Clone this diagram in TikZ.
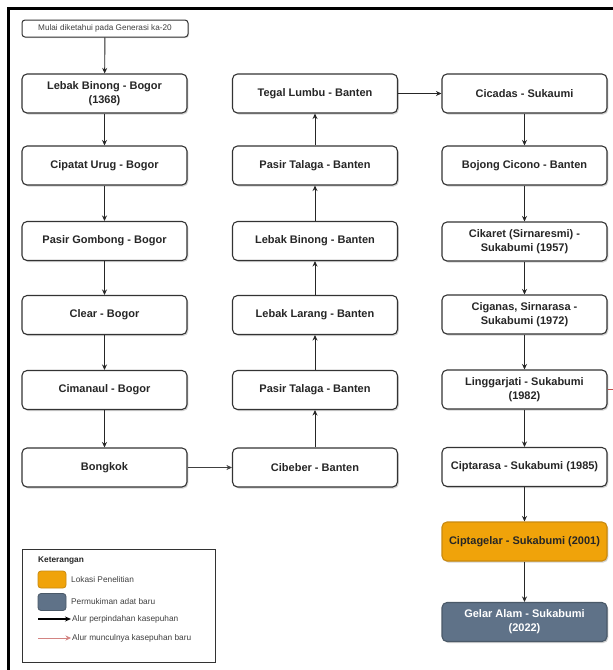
\documentclass[tikz,border=0pt]{standalone}
\usepackage{fontspec}
\setmainfont{Liberation Sans}
\usetikzlibrary{arrows.meta,shadows}
\definecolor{boxline}{HTML}{333333}
\definecolor{orangefill}{HTML}{F0A30A}
\definecolor{orangeline}{HTML}{C98A10}
\definecolor{slatefill}{HTML}{5F7288}
\definecolor{slateline}{HTML}{4A5968}
\definecolor{redline}{HTML}{C0504D}
\begin{document}
\begin{tikzpicture}[x=1pt,y=-1pt,
  box/.style={draw=boxline, line width=1.1pt, rounded corners=5pt, fill=white,
    minimum width=165pt, minimum height=39pt, align=center, inner sep=2pt,
    font=\bfseries\fontsize{11}{14}\selectfont, text=black!85,
    drop shadow={opacity=0.35, shadow xshift=1.3pt, shadow yshift=-1.5pt}},
  startbox/.style={draw=boxline, line width=1pt, rounded corners=3pt, fill=white,
    minimum width=166pt, minimum height=17pt, inner sep=1pt,
    font=\fontsize{8.2}{9}\selectfont, text=black!75,
    drop shadow={opacity=0.3, shadow xshift=1pt, shadow yshift=-1pt}},
  flow/.style={-{Stealth[length=5.5pt,width=5pt]}, line width=0.9pt, draw=black!85},
  thinflow/.style={-{Stealth[length=5.5pt,width=5pt]}, line width=0.6pt, draw=black!75},
  redflow/.style={-{Stealth[length=5.5pt,width=5pt]}, line width=0.9pt, draw=redline},
  legtext/.style={anchor=west, inner sep=0pt, font=\fontsize{8.3}{10}\selectfont, text=black!75},
  legswatch/.style={rounded corners=3pt, minimum width=28pt, minimum height=17pt, inner sep=0pt, line width=0.8pt},
]
\useasboundingbox (0,0) rectangle (613,670);
\fill[white] (0,0) rectangle (613,670);
% outer frame (cut by the image border)
\draw[line width=2.5pt, black] (8.5,690) -- (8.5,8.5) -- (630,8.5);

% start
\node[startbox] (start) at (105,28.5) {Mulai diketahui pada Generasi ka-20};

% column 1
\node[box] (a1) at (104.5,93.5) {Lebak Binong - Bogor\\(1368)};
\node[box] (a2) at (104.5,165.5) {Cipatat Urug - Bogor};
\node[box] (a3) at (104.5,241) {Pasir Gombong - Bogor};
\node[box] (a4) at (104.5,315) {Clear - Bogor};
\node[box] (a5) at (104.5,390) {Cimanaul - Bogor};
\node[box] (a6) at (104.5,467.5) {Bongkok};

% column 2
\node[box] (b6) at (315,467.5) {Cibeber - Banten};
\node[box] (b5) at (315,390) {Pasir Talaga - Banten};
\node[box] (b4) at (315,315) {Lebak Larang - Banten};
\node[box] (b3) at (315,241) {Lebak Binong - Banten};
\node[box] (b2) at (315,165.5) {Pasir Talaga - Banten};
\node[box] (b1) at (315,93.5) {Tegal Lumbu - Banten};

% column 3
\node[box] (c1) at (524.5,93.5) {Cicadas - Sukaumi};
\node[box] (c2) at (524.5,165.5) {Bojong Cicono - Banten};
\node[box] (c3) at (524.5,241.5) {Cikaret (Sirnaresmi) -\\Sukabumi (1957)};
\node[box] (c4) at (524.5,314.5) {Ciganas, Sirnarasa -\\Sukabumi (1972)};
\node[box] (c5) at (524.5,389.5) {Linggarjati - Sukabumi\\(1982)};
\node[box] (c6) at (524.5,467) {Ciptarasa - Sukabumi (1985)};
\node[box, fill=orangefill, draw=orangeline] (c7) at (524.5,541.5) {Ciptagelar - Sukabumi (2001)};
\node[box, fill=slatefill, draw=slateline, text=white] (c8) at (524.5,622) {Gelar Alam - Sukabumi\\(2022)};

% connectors
\draw[flow] (start) -- (a1);
\draw[flow] (a1) -- (a2);
\draw[flow] (a2) -- (a3);
\draw[flow] (a3) -- (a4);
\draw[flow] (a4) -- (a5);
\draw[flow] (a5) -- (a6);
\draw[thinflow] (a6) -- (b6);
\draw[flow] (b6) -- (b5);
\draw[flow] (b5) -- (b4);
\draw[flow] (b4) -- (b3);
\draw[flow] (b3) -- (b2);
\draw[flow] (b2) -- (b1);
\draw[flow] (b1) -- (c1);
\draw[flow] (c1) -- (c2);
\draw[flow] (c2) -- (c3);
\draw[flow] (c3) -- (c4);
\draw[flow] (c4) -- (c5);
\draw[flow] (c5) -- (c6);
\draw[flow] (c6) -- (c7);
\draw[flow] (c7) -- (c8);
\coordinate (redout) at (640,389.5);
\draw[redflow] (c5) -- (redout);

% legend
\node[draw=black!80, line width=0.9pt, fill=white, minimum width=193pt, minimum height=113pt,
  drop shadow={opacity=0.3, shadow xshift=1.2pt, shadow yshift=-1.2pt}] (legend) at (118.5,605.5) {};
\node[legtext, font=\bfseries\fontsize{8.3}{10}\selectfont, text=black!85] (legtitle) at (38,561) {Keterangan};
\node[legswatch, fill=orangefill, draw=orangeline] (swo) at (52,579.5) {};
\node[legtext] (lto) at (71,580) {Lokasi Penelitian};
\node[legswatch, fill=slatefill, draw=slateline] (sws) at (52,602) {};
\node[legtext] (lts) at (71,602) {Permukiman adat baru};
\coordinate (lab) at (38,619);
\coordinate (lae) at (71,619);
\draw[-{Stealth[length=6pt,width=5pt]}, line width=1.3pt, black] (lab) -- (lae);
\node[legtext] (lta) at (72,619) {Alur perpindahan kasepuhan};
\coordinate (lrb) at (38,638);
\coordinate (lre) at (71,638);
\draw[-{Stealth[length=5.5pt,width=5pt]}, line width=0.6pt, draw=redline!70, fill=redline] (lrb) -- (lre);
\node[legtext] (ltr) at (72,638) {Alur munculnya kasepuhan baru};
\end{tikzpicture}
\end{document}
